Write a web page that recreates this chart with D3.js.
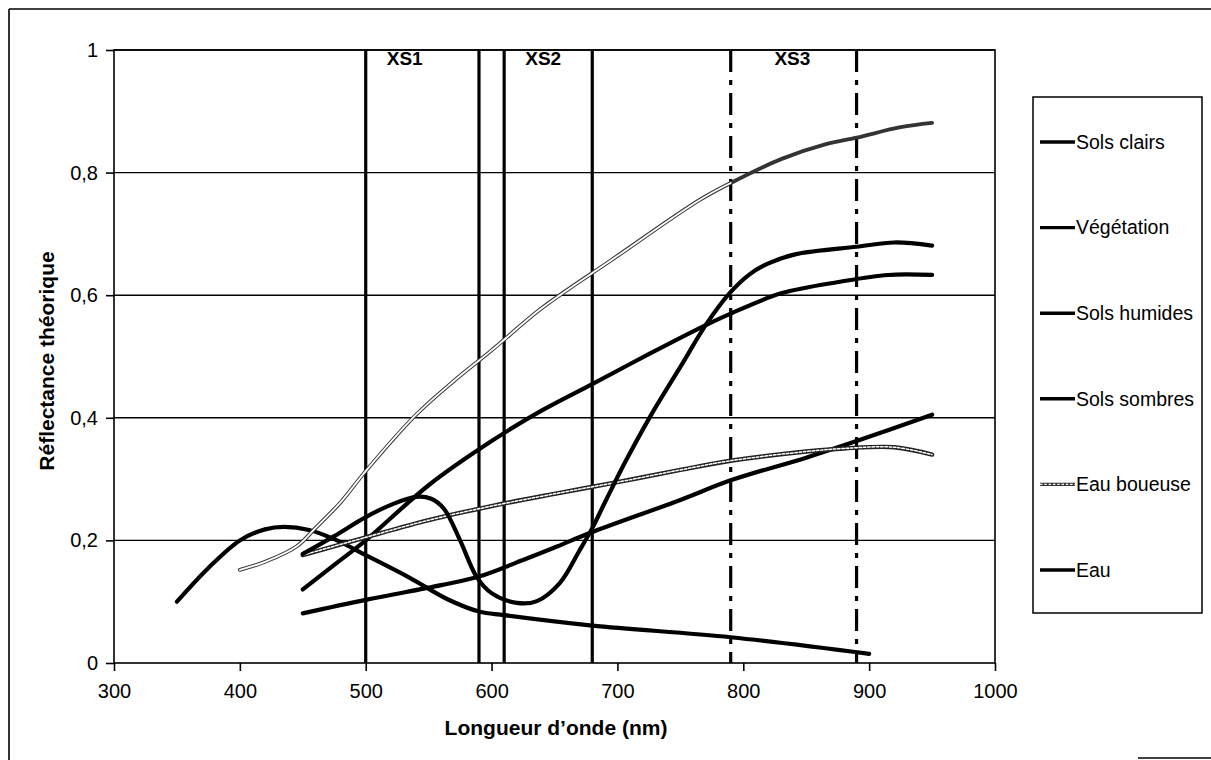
<!DOCTYPE html>
<meta charset="utf-8">
<style>
  body { margin: 0; background: #fff; }
  text { font-family: "Liberation Sans", Arial, sans-serif; fill: #000; }
  .grid line { stroke: #000; stroke-width: 1.4px; }
  .axis path, .axis line { stroke: #000; stroke-width: 1.6px; }
  .axis text { font-size: 20px; }
  .curve { fill: none; stroke-linecap: round; stroke-linejoin: round; }
</style>
<body>
<script src="https://cdn.jsdelivr.net/npm/d3@7"></script>
<script>

  // wavelengths (nm) and reflectance
  var eau = [[350,0.10],[375,0.155],[400,0.20],[420,0.218],[435,0.222],[455,0.217],[475,0.202],
    [500,0.176],[535,0.139],[565,0.104],[590,0.084],[610,0.078],[680,0.061],[790,0.042],[900,0.015]];
  var solsClairs = [[400,0.152],[420,0.165],[445,0.19],[460,0.22],[480,0.262],[500,0.313],[540,0.405],
    [570,0.46],[600,0.51],[640,0.579],[695,0.657],[765,0.755],[790,0.783],[830,0.822],[865,0.846],
    [890,0.857],[925,0.874],[950,0.881]];
  var vegetation = [[450,0.178],[475,0.207],[500,0.238],[520,0.258],[540,0.271],[552,0.268],[562,0.252],
    [575,0.2],[588,0.141],[600,0.114],[620,0.098],[636,0.101],[654,0.13],[670,0.184],[680,0.22],
    [691,0.266],[707,0.331],[726,0.402],[750,0.483],[771,0.554],[789,0.603],[805,0.634],[820,0.652],
    [842,0.667],[890,0.679],[920,0.686],[950,0.681]];
  var solsHumides = [[450,0.12],[475,0.16],[500,0.2],[550,0.29],[600,0.362],[640,0.412],[680,0.455],
    [726,0.505],[771,0.552],[790,0.57],[830,0.603],[877,0.622],[915,0.633],[950,0.633]];
  var solsSombres = [[450,0.081],[500,0.103],[560,0.127],[590,0.141],[625,0.168],[652,0.19],[678,0.212],
    [750,0.266],[790,0.298],[850,0.335],[890,0.362],[950,0.405]];
  var eauBoueuse = [[450,0.176],[500,0.205],[550,0.233],[600,0.256],[650,0.276],[700,0.295],[750,0.315],
    [790,0.33],[850,0.345],[880,0.35],[920,0.352],[950,0.34]];

  var legendNames = ["Sols clairs","Végétation","Sols humides","Sols sombres","Eau boueuse","Eau"];
  var xTicks = [300,400,500,600,700,800,900,1000];
  var yTicks = [0,0.2,0.4,0.6,0.8,1];
  // spectral bands: [name, start, end, dashed]
  var bands = [["XS1",500,590,false],["XS2",610,680,false],["XS3",790,890,true]];
  var bandLabelX = [531,641,839];

  var W = 1211, H = 760;
  var svg = d3.select("body").append("svg").attr("width", W).attr("height", H);

  var x = d3.scaleLinear().domain([300,1000]).range([114,995]);
  var y = d3.scaleLinear().domain([0,1]).range([663,50]);
  var fr = d3.formatLocale({decimal:",", thousands:" ", grouping:[3], currency:["","€"]});

  // outer frame of the scanned figure
  svg.append("line").attr("x1",9).attr("x2",W).attr("y1",9).attr("y2",9)
     .attr("stroke","#000").attr("stroke-width",1.6);
  svg.append("line").attr("x1",9).attr("x2",9).attr("y1",9).attr("y2",H)
     .attr("stroke","#000").attr("stroke-width",1.6);
  svg.append("line").attr("x1",1138).attr("x2",W).attr("y1",758).attr("y2",758)
     .attr("stroke","#000").attr("stroke-width",1.4);

  // horizontal grid
  svg.append("g").attr("class","grid").selectAll("line")
     .data(yTicks.filter(d => d > 0)).join("line")
     .attr("x1",x(300)).attr("x2",x(1000))
     .attr("y1",d=>y(d)).attr("y2",d=>y(d));

  // band limits
  bands.forEach(function(b, i){
    [b[1],b[2]].forEach(function(v){
      svg.append("line")
         .attr("x1",x(v)).attr("x2",x(v)).attr("y1",y(1)).attr("y2",y(0))
         .attr("stroke","#000").attr("stroke-width",3.2)
         .attr("stroke-dasharray", b[3] ? "22,8,5,8" : null);
    });
    svg.append("text").attr("x",x(bandLabelX[i])).attr("y",65)
       .attr("text-anchor","middle").attr("font-weight","bold").attr("font-size",19)
       .text(b[0]);
  });

  var line = d3.line().x(d=>x(d[0])).y(d=>y(d[1])).curve(d3.curveCatmullRom.alpha(0.5));

  function solid(data, w){
    svg.append("path").attr("class","curve").attr("d",line(data))
       .attr("stroke","#000").attr("stroke-width",w);
  }
  solid(eau, 4.2);
  solid(solsSombres, 4.2);
  solid(solsHumides, 4.2);

  // muddy water: chain-like dotted line
  svg.append("path").attr("class","curve").attr("d",line(eauBoueuse))
     .attr("stroke","#222").attr("stroke-width",4.4);
  svg.append("path").attr("class","curve").attr("d",line(eauBoueuse))
     .attr("stroke","#fff").attr("stroke-width",1.5).attr("stroke-linecap","butt")
     .attr("stroke-dasharray","2.5,1.8");

  solid(vegetation, 4.2);

  // light soils: hollow double line, darker toward the infrared
  svg.append("path").attr("class","curve").attr("d",line(solsClairs))
     .attr("stroke","#333").attr("stroke-width",3.8);
  svg.append("path").attr("class","curve").attr("d",line(solsClairs.filter(d=>d[0] <= 790)))
     .attr("stroke","#fff").attr("stroke-width",1.8);

  // plot frame
  svg.append("rect").attr("x",x(300)).attr("y",y(1))
     .attr("width",x(1000)-x(300)).attr("height",y(0)-y(1))
     .attr("fill","none").attr("stroke","#000").attr("stroke-width",1.6);

  svg.append("g").attr("class","axis").attr("transform","translate(0,"+y(0)+")")
     .call(d3.axisBottom(x).tickValues(xTicks).tickSize(8).tickPadding(13).tickFormat(d3.format("d")))
     .call(g=>g.select(".domain").remove());
  svg.append("g").attr("class","axis").attr("transform","translate("+x(300)+",0)")
     .call(d3.axisLeft(y).tickValues(yTicks).tickSize(8).tickPadding(8).tickFormat(fr.format(".1~f")))
     .call(g=>g.select(".domain").remove());

  // axis titles
  svg.append("text").attr("x",556).attr("y",735).attr("text-anchor","middle")
     .attr("font-weight","bold").attr("font-size",21).text("Longueur d’onde (nm)");
  svg.append("text").attr("transform","translate(54,361) rotate(-90)").attr("text-anchor","middle")
     .attr("font-weight","bold").attr("font-size",21).text("Réflectance théorique");

  // legend
  var lg = svg.append("g");
  lg.append("rect").attr("x",1033).attr("y",97).attr("width",169).attr("height",516)
    .attr("fill","#fff").attr("stroke","#000").attr("stroke-width",1.5);
  var item = lg.selectAll("g.item").data(legendNames).join("g").attr("class","item")
    .attr("transform",(d,i)=>"translate(0,"+(142+i*85.6)+")");
  item.append("line").attr("x1",1040).attr("x2",1075)
    .attr("stroke",(d,i)=> i==4 ? "#333" : "#000").attr("stroke-width",3.4);
  item.filter((d,i)=>i==4).append("line").attr("x1",1040).attr("x2",1075)
    .attr("stroke","#fff").attr("stroke-width",1.2).attr("stroke-dasharray","2.5,1.8");
  item.append("text").attr("x",1076).attr("dy","0.35em").attr("font-size",19.5).text(d=>d);

</script>
</body>
</html>
